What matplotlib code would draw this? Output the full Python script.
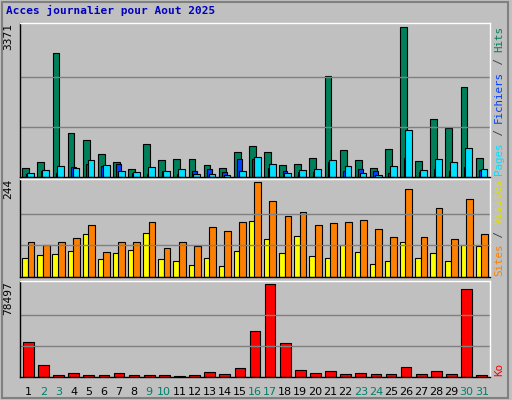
import matplotlib
matplotlib.use("Agg")
import matplotlib.pyplot as plt
import numpy as np
from matplotlib.patches import Rectangle

days = list(range(1, 32))
weekend = [2, 3, 9, 10, 16, 17, 23, 24, 30, 31]
hits = [206, 344, 2798, 986, 826, 527, 344, 183, 734, 390, 413, 413, 275, 206, 573, 688, 573, 275, 298, 436, 2270, 619, 390, 206, 642, 3371, 367, 1307, 1101, 2018, 436]
files = [69, 138, 92, 229, 298, 252, 298, 92, 69, 138, 69, 138, 183, 115, 413, 413, 206, 138, 115, 115, 344, 138, 183, 138, 92, 436, 115, 183, 138, 229, 160]
pages = [92, 161, 252, 206, 390, 275, 138, 115, 229, 138, 183, 69, 69, 46, 138, 459, 298, 92, 161, 183, 390, 252, 92, 46, 252, 1063, 161, 413, 344, 665, 183]
sites = [48, 56, 58, 66, 109, 45, 61, 69, 114, 45, 40, 32, 50, 29, 66, 143, 98, 61, 106, 53, 48, 82, 64, 34, 40, 90, 50, 61, 42, 82, 80]
visits = [90, 82, 90, 101, 133, 64, 90, 90, 141, 74, 90, 80, 127, 119, 141, 244, 196, 156, 167, 133, 138, 141, 146, 122, 103, 225, 103, 178, 98, 199, 109]
ko = [29300, 10350, 1720, 3450, 1720, 1720, 3450, 1720, 1720, 1720, 860, 1720, 4310, 2590, 7760, 38800, 78497, 28460, 6040, 3450, 5180, 2590, 3450, 2590, 2590, 8630, 2590, 5180, 2590, 74200, 1720]

W, H = 512, 400
fig = plt.figure(figsize=(W/100, H/100), dpi=100, facecolor='#c0c0c0')
fig.patches.append(Rectangle((0.003, 0.005), 0.99, 0.99, transform=fig.transFigure,
                             fill=False, edgecolor='#808080', lw=1.5))

def ax_at(x0, y0, x1, y1):
    return fig.add_axes([x0/W, 1-y1/H, (x1-x0)/W, (y1-y0)/H])

x = np.array(days)
panels = [(23, 177, 3371), (179, 277, 244), (281, 377, 78497)]
axes = []
for (y0, y1, m) in panels:
    a = ax_at(20, y0, 490, y1)
    a.set_facecolor('#c0c0c0')
    a.set_xlim(0.45, 31.55)
    a.set_ylim(0, m*1.03)
    for f in (1/3, 2/3):
        a.axhline(m*f, color='#808080', lw=1)
    a.set_xticks([]); a.set_yticks([])
    for s in a.spines.values():
        s.set_color('white'); s.set_linewidth(1)
    a.spines['left'].set_color('black'); a.spines['bottom'].set_color('black')
    a.text(-0.025, 1.0, str(m), transform=a.transAxes, rotation=90, ha='center', va='top',
           family='DejaVu Sans Mono', fontsize=8)
    axes.append(a)

a1, a2, a3 = axes
kw = dict(edgecolor='black', linewidth=0.8)
a1.bar(x-0.17, hits, 0.45, color='#00805a', **kw)
a1.bar(x-0.02, files, 0.3, color='#0040ff', **kw)
a1.bar(x+0.15, pages, 0.45, color='#00e0ff', **kw)
a2.bar(x-0.2, sites, 0.4, color='#ffff00', **kw)
a2.bar(x+0.18, visits, 0.45, color='#ff8000', **kw)
a3.bar(x, ko, 0.7, color='#ff0000', **kw)

for d in days:
    a3.text(d, -0.1, str(d), transform=a3.get_xaxis_transform(), ha='center', va='top',
            fontsize=8, family='DejaVu Sans', color='#00806a' if d in weekend else 'black')

fig.text(6/W, 1-10/H, 'Acces journalier pour Aout 2025', color='#0000c0', fontsize=8,
         fontweight='bold', family='DejaVu Sans Mono', va='center')

CH = 6.5  # px per character
def side(y_bottom_px, parts):
    y = y_bottom_px
    for txt, col in parts:
        fig.text(499/W, 1-y/H, txt, rotation=90, ha='center', va='bottom',
                 color=col, fontsize=7.8, family='DejaVu Sans Mono')
        y -= len(txt) * CH
side(175, [('Pages', '#00e0ff'), (' / ', '#404040'), ('Fichiers', '#0040ff'), (' / ', '#404040'), ('Hits', '#00805a')])
side(276, [('Sites', '#ff8000'), (' / ', '#404040'), ('Visites', '#e0e000')])
side(376, [('Ko', '#ff0000')])

fig.savefig('out.png', dpi=100, facecolor=fig.get_facecolor())
